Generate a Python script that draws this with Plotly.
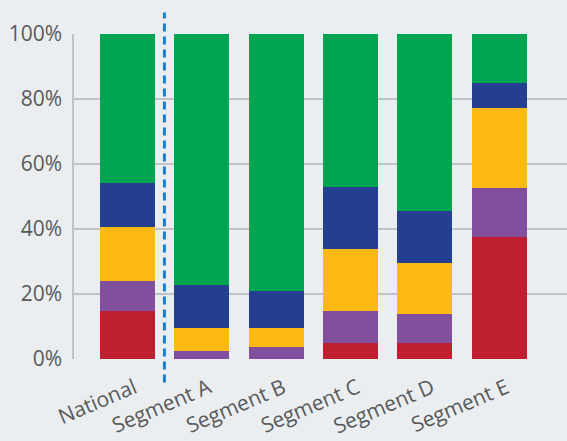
import plotly.graph_objects as go

categories = ["National", "Segment A", "Segment B", "Segment C", "Segment D", "Segment E"]
red_vals = [14.7, 0.0, 0.0, 4.8, 4.8, 37.4]
purple_vals = [9.2, 2.6, 3.6, 10.1, 8.9, 15.3]
yellow_vals = [16.8, 6.8, 5.8, 18.8, 15.7, 24.6]
blue_vals = [13.6, 13.5, 11.4, 19.3, 16.0, 7.7]
green_vals = [45.7, 77.1, 79.2, 47.0, 54.6, 15.0]
y_ticks = [0, 20, 40, 60, 80, 100]
y_tick_labels = ["0%", "20%", "40%", "60%", "80%", "100%"]

series = [
    ("Red", red_vals, "#c01f2f"),
    ("Purple", purple_vals, "#814f9e"),
    ("Yellow", yellow_vals, "#fdb913"),
    ("Blue", blue_vals, "#243f8f"),
    ("Green", green_vals, "#00a551"),
]

fig = go.Figure()
for name, vals, color in series:
    fig.add_trace(go.Bar(
        x=categories, y=vals, name=name,
        marker=dict(color=color, line=dict(width=0)),
        hoverinfo="skip",
    ))

fig.add_shape(
    type="line", xref="x", yref="paper",
    x0=0.5, x1=0.5, y0=-0.072, y1=1.066,
    line=dict(color="#1a7fd0", width=3, dash="8px,5px"),
    layer="above",
)

bg = "#eaeef1"
fig.update_layout(
    width=567, height=441,
    margin=dict(l=74, r=0, t=34, b=82),
    paper_bgcolor=bg, plot_bgcolor=bg,
    barmode="stack", bargap=0.26,
    showlegend=False,
    font=dict(family="Open Sans, Noto Sans, sans-serif", color="#595959", size=21),
    xaxis=dict(
        range=[-0.715, 5.91], showgrid=False, zeroline=False,
        showline=False, ticks="", tickangle=-23,
        ticklabelstandoff=12, ticklabelshift=7,
        tickfont=dict(size=21, color="#595959"),
    ),
    yaxis=dict(
        range=[0, 100], tickvals=y_ticks, ticktext=y_tick_labels,
        showgrid=True, gridcolor="#bfc2c6", gridwidth=1.5,
        zeroline=False, showline=True, linecolor="#bfc2c6", linewidth=1.5,
        ticks="", ticklabelstandoff=6,
        tickfont=dict(size=21, color="#595959"),
    ),
)

fig.write_html("out.html")
